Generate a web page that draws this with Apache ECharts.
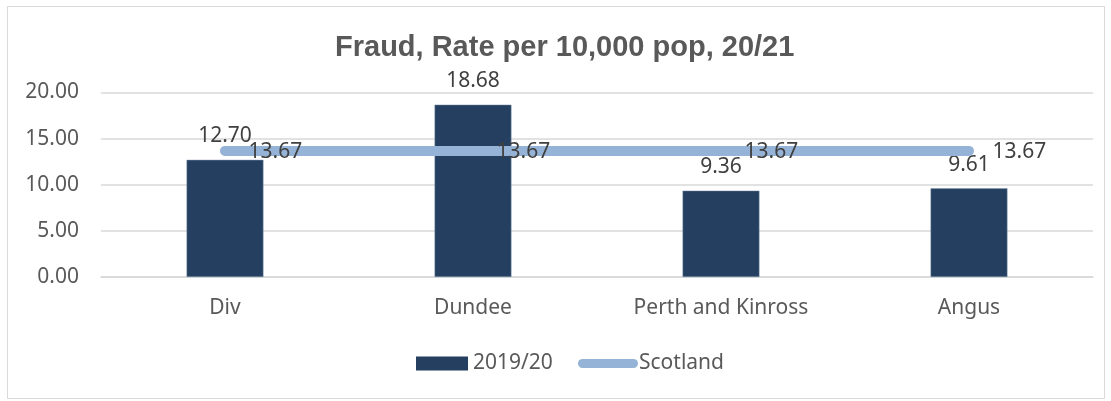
<!DOCTYPE html>
<html><head><meta charset="utf-8">
<script src="https://cdn.jsdelivr.net/npm/echarts@6/dist/echarts.min.js"></script>
<style>html,body{margin:0;padding:0;background:#fff}#c{width:1111px;height:401px}</style>
</head><body><div id="c"></div>
<script>
var categories = ['Div', 'Dundee', 'Perth and Kinross', 'Angus'];
var rate2019 = [12.70, 18.68, 9.36, 9.61];
var scotland = [13.67, 13.67, 13.67, 13.67];
var yTicks = [0, 5, 20];

var F = 'Noto Sans';
var FS = 21;
var chart = echarts.init(document.getElementById('c'));
chart.setOption({
  animation: false,
  textStyle: {fontFamily: F},
  graphic: [{type: 'rect', shape: {x: 7.5, y: 6.5, width: 1097, height: 392}, style: {fill: 'none', stroke: '#d9d9d9', lineWidth: 1}, z: -1}],
  title: {text: 'Fraud, Rate per 10,000 pop, 20/21', left: 330, top: 28,
    textStyle: {fontFamily: 'Liberation Sans', fontSize: 29, fontWeight: 'bold', color: '#595959'}},
  grid: {left: 101, right: 18, top: 92.5, bottom: 124, containLabel: false},
  legend: [
    {left: 411, top: 348, itemWidth: 52, itemHeight: 14, itemGap: 6,
      itemStyle: {borderWidth: 0},
      textStyle: {fontFamily: F, fontSize: FS, color: '#595959'},
      data: [{name: '2019/20', icon: 'rect'}]},
    {left: 573, top: 348, itemWidth: 60, itemHeight: 9, itemGap: 2,
      textStyle: {fontFamily: F, fontSize: FS, color: '#595959', padding: [0, 0, 0, -4]},
      data: [{name: 'Scotland', icon: 'path://M4.5,0 L55.5,0 A4.5,4.5 0 0 1 55.5,9 L4.5,9 A4.5,4.5 0 0 1 4.5,0 Z',
        itemStyle: {color: '#95B3D7'}}]}
  ],
  xAxis: {type: 'category', data: categories,
    axisLine: {lineStyle: {color: '#d9d9d9', width: 1.5}}, axisTick: {show: false},
    axisLabel: {fontFamily: F, fontSize: FS, color: '#595959', margin: 21}},
  yAxis: {type: 'value', min: yTicks[0], max: yTicks[2], interval: yTicks[1],
    axisLine: {show: false}, axisTick: {show: false},
    splitLine: {lineStyle: {color: '#d9d9d9', width: 1.5}},
    axisLabel: {fontFamily: F, fontSize: FS, color: '#595959', margin: 22,
      formatter: function (v) { return v.toFixed(2); }}},
  series: [
    {name: '2019/20', type: 'bar', data: rate2019, barWidth: '31%',
      itemStyle: {color: '#243F60', borderColor: '#8497b0', borderWidth: 0.5},
      label: {show: true, position: 'top', distance: 13, fontFamily: F, fontSize: FS, color: '#404040',
        formatter: function (p) { return p.value.toFixed(2); }}},
    {name: 'Scotland', type: 'line', data: scotland, symbol: 'circle', symbolSize: 1, showSymbol: true,
      lineStyle: {color: '#95B3D7', width: 10, cap: 'round'}, itemStyle: {color: '#95B3D7'},
      label: {show: true, position: 'right', distance: 5, offset: [18, 1], fontFamily: F, fontSize: FS, color: '#404040',
        formatter: function (p) { return p.value.toFixed(2); }}}
  ]
});
</script></body></html>
